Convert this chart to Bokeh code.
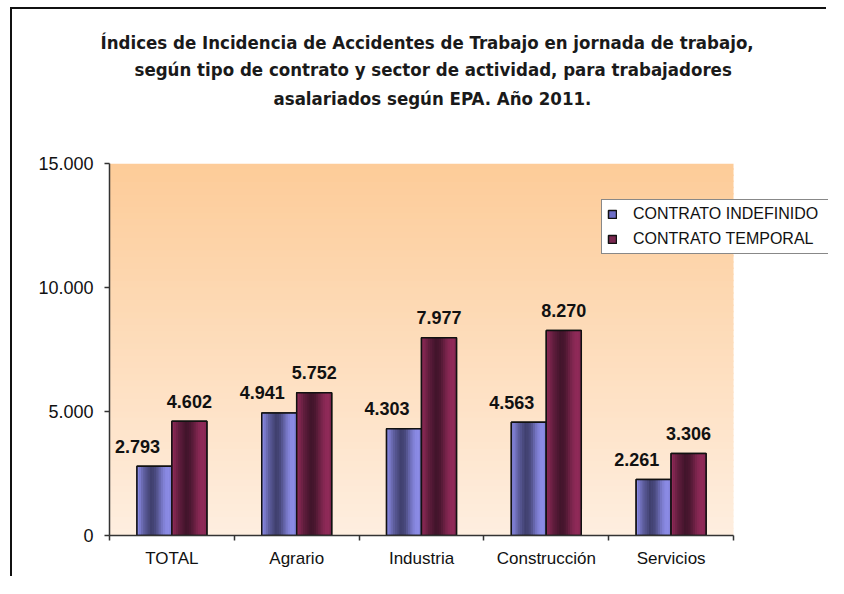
from bokeh.plotting import figure
from bokeh.models import (ColumnDataSource, FixedTicker, CustomJSTickFormatter,
                          BoxAnnotation, Legend, LegendItem, Range1d, Title)
from bokeh.core.properties import value
from bokeh.embed import file_html
from bokeh.resources import INLINE

# ---------------- data ----------------
categories = ["TOTAL", "Agrario", "Industria", "Construcción", "Servicios"]
indefinido = [2793, 4941, 4303, 4563, 2261]
temporal = [4602, 5752, 7977, 8270, 3306]
series_names = ["CONTRATO INDEFINIDO", "CONTRATO TEMPORAL"]
y_ticks = [0, 5000, 10000, 15000]
title_lines = [
    "Índices de Incidencia de Accidentes de Trabajo en jornada de trabajo,",
    "según tipo de contrato y sector de actividad, para trabajadores",
    "asalariados según EPA. Año 2011.",
]

ncat = len(categories)
x_extra = 0.761  # room to the right of the last category (legend area)

# ---------------- figure ----------------
p = figure(width=816, height=569,
           x_range=Range1d(0, ncat + x_extra), y_range=Range1d(0, 15000),
           output_backend="svg", toolbar_location=None,
           min_border_left=97, min_border_right=0,
           min_border_top=154, min_border_bottom=43)
p.styles = {"margin-left": "10px", "margin-top": "7px",
            "border-left": "2px solid #111111", "border-top": "2px solid #111111"}
p.grid.visible = False
p.outline_line_color = None
p.background_fill_color = "white"
p.border_fill_color = "white"

# title (three centred lines) + spacer above the plot area
title_font = "DejaVu Sans Condensed, DejaVu Sans"
title_offsets = [-9, 25, 164]
title_standoffs = [3, 5, 7]
p.add_layout(Title(text=" ", text_font_size="10px", standoff=38), "above")
for i in (2, 1):
    p.add_layout(Title(text=title_lines[i], align="left", offset=title_offsets[i],
                       standoff=title_standoffs[i], text_font=title_font,
                       text_font_size="18.5px", text_font_style="bold",
                       text_color="#1a1a1a"), "above")
p.title.text = title_lines[0]
p.title.align = "left"
p.title.offset = title_offsets[0]
p.title.standoff = title_standoffs[0]
p.title.text_font = title_font
p.title.text_font_size = "18.5px"
p.title.text_font_style = "bold"
p.title.text_color = "#1a1a1a"

# gradient background of the plot area (only over the category span)
top_rgb = (253, 204, 153)
bot_rgb = (254, 238, 223)
nb = 60
ymax = 15000
for k in range(nb):
    t = k / (nb - 1)
    c = tuple(int(round(bot_rgb[j] + (top_rgb[j] - bot_rgb[j]) * t)) for j in range(3))
    y0 = ymax * k / nb
    y1 = min(ymax, ymax * (k + 1) / nb + ymax * 0.004)
    p.add_layout(BoxAnnotation(left=0, right=ncat, bottom=y0, top=y1,
                               fill_color="#%02x%02x%02x" % c,
                               fill_alpha=1, line_alpha=0, level="underlay"))

# axes
p.yaxis.ticker = FixedTicker(ticks=y_ticks)
p.yaxis.formatter = CustomJSTickFormatter(
    code="return Math.round(tick).toString().replace(/\\B(?=(\\d{3})+(?!\\d))/g, '.');")
p.yaxis.major_tick_in = 0
p.yaxis.major_tick_out = 5
p.yaxis.minor_tick_out = 0
p.yaxis.minor_tick_in = 0
p.yaxis.axis_line_color = "#333333"
p.yaxis.axis_line_width = 1.5
p.yaxis.major_tick_line_color = "#333333"
p.yaxis.major_tick_line_width = 1.5
p.yaxis.major_label_text_font = "Liberation Sans"
p.yaxis.major_label_text_font_size = "18px"
p.yaxis.major_label_text_color = "#111111"
p.yaxis.major_label_standoff = 11

centers = [i + 0.5 for i in range(ncat)]
p.xaxis.bounds = (0, ncat)
p.xaxis.ticker = FixedTicker(ticks=centers, minor_ticks=list(range(ncat + 1)))
p.xaxis.formatter = CustomJSTickFormatter(args=dict(labels=categories),
                                          code="return labels[Math.floor(tick)];")
p.xaxis.major_tick_line_color = None
p.xaxis.major_tick_in = 0
p.xaxis.major_tick_out = 0
p.xaxis.minor_tick_in = 0
p.xaxis.minor_tick_out = 5
p.xaxis.minor_tick_line_color = "#333333"
p.xaxis.minor_tick_line_width = 1.5
p.xaxis.axis_line_color = "#333333"
p.xaxis.axis_line_width = 1.5
p.xaxis.major_label_text_font = "Liberation Sans"
p.xaxis.major_label_text_font_size = "17px"
p.xaxis.major_label_text_color = "#111111"
p.xaxis.major_label_standoff = 8

# bars with a horizontal cylinder-like shading
bar_w = 0.28
offsets = [-0.14, 0.14]
light = [(146, 146, 240), (150, 44, 92)]
dark = [(62, 62, 108), (64, 20, 42)]
mid = ["#6e6ec8", "#7a2850"]
profile = [(0.0, 0.0), (0.2, 0.6), (0.42, 1.0), (0.55, 0.85), (0.75, 0.25),
           (0.88, 0.05), (1.0, 0.2)]


def shade(t):
    for (t0, v0), (t1, v1) in zip(profile[:-1], profile[1:]):
        if t0 <= t <= t1:
            return v0 + (v1 - v0) * (t - t0) / (t1 - t0)
    return profile[-1][1]


nstrip = 16
legend_items = []
for s, vals in enumerate([indefinido, temporal]):
    xs = [c + offsets[s] for c in centers]
    base = p.vbar(x=xs, top=vals, width=bar_w, fill_color=mid[s],
                  line_color="#111111", line_width=1.5)
    sx, st, sc = [], [], []
    sw = bar_w / nstrip
    for x, v in zip(xs, vals):
        for k in range(nstrip):
            t = (k + 0.5) / nstrip
            m = shade(t)
            col = tuple(int(round(light[s][j] + (dark[s][j] - light[s][j]) * m)) for j in range(3))
            sx.append(x - bar_w / 2 + (k + 0.5) * sw)
            st.append(v)
            sc.append("#%02x%02x%02x" % col)
    p.vbar(x=sx, top=st, width=sw * 1.25, fill_color=sc, line_color=None)
    p.vbar(x=xs, top=vals, width=bar_w, fill_color=None,
           line_color="#111111", line_width=1.5)
    legend_items.append(LegendItem(label=series_names[s], renderers=[base]))

    labels = [f"{v:,}".replace(",", ".") for v in vals]
    src = ColumnDataSource(dict(x=xs, y=vals, t=labels))
    p.text(x="x", y="y", text="t", source=src,
           x_offset=-17 if s == 0 else 0, y_offset=-20,
           text_align="center", text_baseline="middle",
           text_font=value("Liberation Sans"), text_font_size="18px",
           text_font_style="bold", text_color="#111111")

legend = Legend(items=legend_items, location=(492, 281), orientation="vertical",
                border_line_color="#111111", border_line_width=1.5,
                background_fill_color="white", background_fill_alpha=1,
                glyph_width=10, glyph_height=10, label_height=12, spacing=7,
                padding=5, margin=0, label_standoff=16, label_width=225,
                label_text_font="Liberation Sans", label_text_font_size="16px",
                label_text_color="#111111")
p.add_layout(legend)

open("out.html", "w").write(file_html(p, INLINE))
